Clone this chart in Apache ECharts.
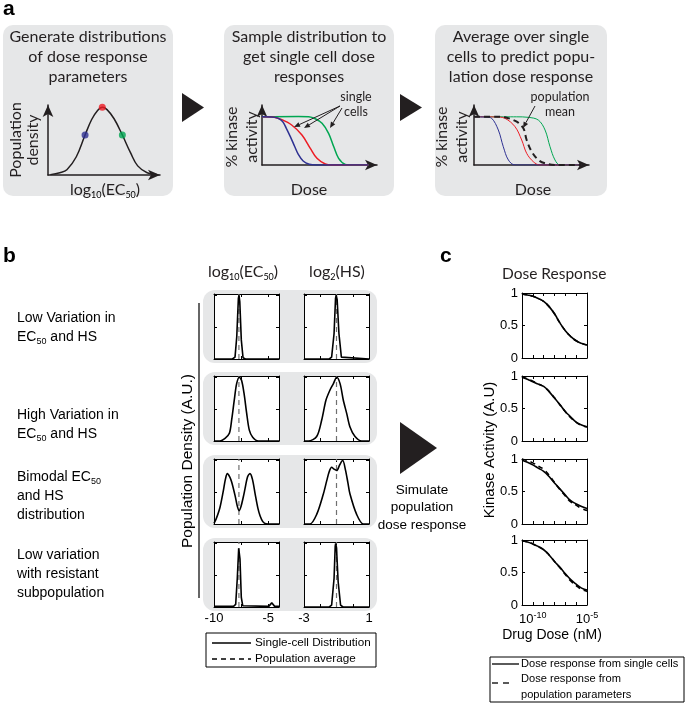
<!DOCTYPE html>
<html><head><meta charset="utf-8">
<script src="https://cdn.jsdelivr.net/npm/echarts@6/dist/echarts.min.js"></script>
<style>html,body{margin:0;padding:0;background:#fff}#c{width:685px;height:704px}</style>
</head><body><div id="c"></div>
<script>
// ---------- Panel a: schematic data ----------
const gaussX = [0.2, 1.0, 1.6, 2.4, 3.14, 3.7, 4.2, 4.6, 5.0, 5.6, 6.3, 7.0, 7.6, 8.4, 9.2];
const gaussY = [0.05, 0.3, 0.7, 2.4, 5.26, 7.3, 8.5, 8.9, 8.6, 7.4, 5.26, 2.9, 1.2, 0.3, 0.05];
const dotsX = [3.14, 4.6, 6.3];
const dotsY = [5.26, 8.9, 5.26];
const dotColors = ['#2e3192', '#ed1c24', '#00a651'];

const s2BlueX = [0, 0.8, 1.3, 1.7, 2.0, 2.34, 2.7, 3.0, 3.4, 3.9, 4.5, 8.8];
const s2BlueY = [7.3, 7.28, 7.1, 6.6, 5.6, 4.3, 2.8, 1.6, 0.6, 0.12, 0, 0];
const s2RedX = [0, 1.0, 1.6, 2.45, 3.3, 3.99, 4.54, 5.23, 5.78, 8.8];
const s2RedY = [7.3, 7.25, 6.9, 6.06, 4.55, 2.53, 1.01, 0.15, 0, 0];
const s2GreenX = [0, 3.0, 3.86, 4.4, 4.96, 5.5, 5.92, 6.33, 6.88, 7.44, 8.8];
const s2GreenY = [7.3, 7.35, 7.3, 7.0, 6.31, 4.8, 2.8, 1.0, 0.1, 0, 0];

const s3BlueX = [0, 1.0, 1.46, 2.01, 2.42, 2.84, 3.39, 8.9];
const s3BlueY = [7.3, 7.25, 7.07, 5.3, 2.77, 0.76, 0, 0];
const s3RedX = [0, 1.8, 2.56, 3.39, 3.94, 4.35, 4.9, 5.45, 8.9];
const s3RedY = [7.3, 7.28, 7.07, 5.8, 3.79, 1.77, 0.5, 0, 0];
const s3GreenX = [0, 3.5, 4.49, 5.32, 5.87, 6.28, 6.69, 7.11, 8.9];
const s3GreenY = [7.3, 7.3, 7.22, 6.8, 5.3, 2.77, 0.76, 0, 0];
const s3MeanX = [0, 2.0, 2.56, 3.53, 4.08, 4.35, 4.77, 5.32, 5.87, 6.69, 8.9];
const s3MeanY = [7.3, 7.3, 7.22, 6.56, 5.56, 3.79, 2.02, 0.76, 0.25, 0, 0];

// ---------- Panel b: population density curves ----------
const rowLabels = ['Low Variation in\nEC{sub|50} and HS', 'High Variation in\nEC{sub|50} and HS',
  'Bimodal EC{sub|50}\nand HS\ndistribution', 'Low variation\nwith resistant\nsubpopulation'];
const ec50Ticks = ['-10', '-5'];
const hsTicks = ['-3', '1'];
const ec50Low = [[-10,0],[-8.3,0],[-8.06,0.03],[-7.9,0.35],[-7.75,0.95],[-7.69,1.0],[-7.62,0.9],[-7.48,0.3],[-7.32,0.02],[-7.1,0],[-4,0]];
const hsLow = [[-3,0],[-1.45,0],[-1.3,0.03],[-1.15,0.4],[-1.06,0.95],[-1.02,1.0],[-0.96,0.93],[-0.85,0.4],[-0.7,0.03],[-0.6,0],[1,0]];
const ec50High = [[-10,0],[-9.45,0],[-8.98,0.04],[-8.58,0.12],[-8.37,0.33],[-8.13,0.64],[-7.91,0.9],[-7.66,1.0],[-7.45,0.95],[-7.23,0.75],[-6.98,0.43],[-6.74,0.17],[-6.43,0.06],[-5.91,0],[-4,0]];
const hsHigh = [[-3,0],[-2.73,0],[-2.22,0.07],[-1.91,0.33],[-1.65,0.64],[-1.4,0.8],[-1.19,0.9],[-0.99,1.0],[-0.78,0.9],[-0.58,0.64],[-0.37,0.43],[-0.17,0.22],[0.14,0.07],[0.55,0],[1,0]];
const ec50Bi = [[-10,0.01],[-9.8,0.08],[-9.45,0.26],[-9.14,0.52],[-8.95,0.7],[-8.77,0.79],[-8.55,0.74],[-8.37,0.66],[-8.06,0.45],[-7.85,0.28],[-7.69,0.21],[-7.5,0.28],[-7.3,0.42],[-7.14,0.55],[-6.9,0.74],[-6.68,0.79],[-6.45,0.7],[-6.2,0.47],[-5.95,0.25],[-5.75,0.13],[-5.5,0.04],[-5.2,0.005],[-4,0]];
const hsBi = [[-3,0],[-2.63,0],[-2.22,0.15],[-1.81,0.47],[-1.6,0.68],[-1.45,0.82],[-1.3,0.89],[-1.15,0.86],[-0.99,0.84],[-0.8,0.93],[-0.62,1.0],[-0.45,0.85],[-0.3,0.65],[-0.17,0.47],[0.24,0.15],[0.65,0],[1,0]];
const ec50Res = [[-10,0.01],[-8.2,0.01],[-8.0,0.04],[-7.85,0.45],[-7.72,0.92],[-7.69,0.95],[-7.6,0.75],[-7.48,0.15],[-7.35,0.02],[-7.2,0.01],[-4.95,0.01],[-4.8,0.04],[-4.67,0.065],[-4.55,0.04],[-4.4,0.01],[-4,0.01]];
const hsRes = [[-3,0],[-1.45,0],[-1.3,0.03],[-1.15,0.45],[-1.08,0.95],[-1.05,1.0],[-1.0,0.93],[-0.9,0.4],[-0.75,0.03],[-0.6,0],[1,0]];
const ec50Curves = [ec50Low, ec50High, ec50Bi, ec50Res];
const hsCurves = [hsLow, hsHigh, hsBi, hsRes];
const curveSmooth = [false, 0.3, 0.3, false];
const ec50Mean = [-7.7, -7.7, -7.7, -7.7];
const hsMean = [-1.0, -1.0, -1.0, -1.0];

// ---------- Panel c: dose response ----------
const logDose = [-11, -10.5, -10, -9.5, -9, -8.5, -8, -7.5, -7, -6.5, -6, -5.5, -5];
const drSingle = [
  [0.985, 0.97, 0.95, 0.915, 0.87, 0.79, 0.68, 0.54, 0.42, 0.33, 0.265, 0.225, 0.20],
  [0.98, 0.95, 0.91, 0.875, 0.84, 0.76, 0.66, 0.56, 0.455, 0.37, 0.29, 0.245, 0.22],
  [0.98, 0.95, 0.91, 0.86, 0.81, 0.73, 0.63, 0.54, 0.445, 0.36, 0.31, 0.27, 0.24],
  [0.99, 0.97, 0.94, 0.90, 0.85, 0.77, 0.67, 0.58, 0.48, 0.39, 0.32, 0.26, 0.23]
];
const drPop = [
  [0.985, 0.97, 0.95, 0.915, 0.87, 0.79, 0.68, 0.54, 0.42, 0.33, 0.265, 0.225, 0.20],
  [0.99, 0.955, 0.92, 0.88, 0.835, 0.765, 0.665, 0.555, 0.45, 0.36, 0.285, 0.24, 0.215],
  [1.0, 0.975, 0.94, 0.89, 0.84, 0.75, 0.64, 0.53, 0.43, 0.34, 0.29, 0.24, 0.21],
  [0.99, 0.97, 0.94, 0.90, 0.85, 0.77, 0.67, 0.575, 0.47, 0.37, 0.30, 0.24, 0.21]
];
const drYTicks = ['0', '0.5', '1'];

// ---------- build ----------
const AR = '"Liberation Sans", Arial, sans-serif';
const MY = 'Lato, "Open Sans", sans-serif';
const A_BLACK = '#231f20';
const GRAY = '#e6e7e8';
const grids = [], xAxes = [], yAxes = [], series = [], G = [];
const zip = (xs, ys) => xs.map((x, i) => [x, ys[i]]);

function schem(left, top, w, h, xmax, ymax) {
  grids.push({left, top, width: w, height: h, outerBoundsMode: 'none'});
  const gi = grids.length - 1;
  const al = {show: true, onZero: false, symbol: ['none', 'arrow'], symbolSize: [8, 12], lineStyle: {color: A_BLACK, width: 1.5}};
  const common = {gridIndex: gi, type: 'value', min: 0, axisLine: al, axisTick: {show: false}, axisLabel: {show: false}, splitLine: {show: false}};
  xAxes.push(Object.assign({max: xmax}, common));
  yAxes.push(Object.assign({max: ymax}, common));
  return [xAxes.length - 1, yAxes.length - 1];
}
function plot(left, top, w, h, xmin, xmax, xint, ymax, yint, xLab, yLab) {
  grids.push({left, top, width: w, height: h, show: true, backgroundColor: '#fff', borderWidth: 0, outerBoundsMode: 'none'});
  const gi = grids.length - 1;
  const line = {show: true, onZero: false, lineStyle: {color: '#000', width: 1}};
  const tick = {show: true, inside: true, length: 3, lineStyle: {color: '#000', width: 1}};
  const base = {gridIndex: gi, type: 'value', axisLine: line, axisTick: tick, splitLine: {show: false}};
  xAxes.push(Object.assign({position: 'bottom', min: xmin, max: xmax, interval: xint, axisLabel: xLab || {show: false}}, base));
  xAxes.push(Object.assign({position: 'top', min: xmin, max: xmax, interval: xint, axisLabel: {show: false}}, base));
  yAxes.push(Object.assign({position: 'left', min: 0, max: ymax, interval: yint, axisLabel: yLab || {show: false}}, base));
  yAxes.push(Object.assign({position: 'right', min: 0, max: ymax, interval: yint, axisLabel: {show: false}}, base));
  return [xAxes.length - 2, yAxes.length - 2];
}
function addLine(ax, data, color, width, dash, smooth, z) {
  series.push({type: 'line', xAxisIndex: ax[0], yAxisIndex: ax[1], data, showSymbol: false, smooth: smooth || false,
    lineStyle: {color, width, type: dash || 'solid'}, z: z || 2, silent: true});
}

// panel a plots
const a1 = schem(48, 105, 112, 70, 9.49, 9.21);
addLine(a1, zip(gaussX, gaussY), A_BLACK, 1.5, null, 0.4);
series.push({type: 'scatter', xAxisIndex: a1[0], yAxisIndex: a1[1], symbolSize: 7, z: 5,
  data: dotsX.map((x, i) => ({value: [x, dotsY[i]], itemStyle: {color: dotColors[i]}}))});
const a2 = schem(262, 105, 115, 60, 9.5, 9.09);
addLine(a2, zip(s2GreenX, s2GreenY), '#00a651', 1.5, null, 0.35);
addLine(a2, zip(s2RedX, s2RedY), '#ed1c24', 1.5, null, 0.35);
addLine(a2, zip(s2BlueX, s2BlueY), '#2e3192', 1.5, null, 0.35);
const a3 = schem(474, 105, 115, 60, 9.5, 9.09);
addLine(a3, zip(s3GreenX, s3GreenY), '#00a651', 1, null, 0.35);
addLine(a3, zip(s3RedX, s3RedY), '#ed1c24', 1, null, 0.35);
addLine(a3, zip(s3BlueX, s3BlueY), '#2e3192', 1, null, 0.35);
addLine(a3, zip(s3MeanX, s3MeanY), A_BLACK, 2, [6, 4], 0.35, 4);

// panel b plots
const rowTops = [294, 376, 459, 542];
const tickLab = (keep) => ({show: true, margin: 5, fontSize: 13, fontFamily: AR, color: '#000',
  showMinLabel: true, showMaxLabel: true,
  formatter: v => keep.indexOf(String(v)) >= 0 ? String(v) : ''});
rowTops.forEach((t, r) => {
  const last = r === rowTops.length - 1;
  const p1 = plot(214, t, 65, 65, -10, -4, 2.5, 1.02, 0.5, last ? tickLab(ec50Ticks) : null);
  addLine(p1, [[ec50Mean[r], 0], [ec50Mean[r], 1.02]], '#707070', 1.2, [5, 4], false, 2);
  addLine(p1, ec50Curves[r], '#000', 1.6, null, curveSmooth[r], 3);
  const p2 = plot(304, t, 65, 65, -3, 1, 1, 1.02, 0.5, last ? tickLab(hsTicks) : null);
  addLine(p2, [[hsMean[r], 0], [hsMean[r], 1.02]], '#707070', 1.2, [5, 4], false, 2);
  addLine(p2, hsCurves[r], '#000', 1.6, null, curveSmooth[r], 3);
});

// panel c plots
const drTops = [293, 376, 459, 540];
drTops.forEach((t, r) => {
  const last = r === drTops.length - 1;
  const xl = last ? {show: true, margin: 6, fontSize: 13, fontFamily: AR, color: '#000', lineHeight: 16,
    formatter: v => v === -10 ? '10{sup|-10}' : (v === -5 ? '10{sup|-5}' : ''),
    rich: {sup: {fontSize: 9, fontFamily: AR, color: '#000', verticalAlign: 'top', lineHeight: 9}}} : null;
  const yl = {show: true, margin: 4, fontSize: 13, fontFamily: AR, color: '#000',
    formatter: v => drYTicks[Math.round(v * 2)] || ''};
  const p = plot(522, t, 65, 65, -11, -5, 1, 1, 0.5, xl, yl);
  addLine(p, zip(logDose, drPop[r]), '#000', 1.6, [5, 4], true, 3);
  addLine(p, zip(logDose, drSingle[r]), '#000', 1.6, null, true, 4);
});

// ---------- graphic decorations ----------
function T(x, y, text, o) {
  o = o || {};
  const st = {text, fontSize: o.size || 14, fontFamily: o.font || AR, fontWeight: o.weight || 'normal', fill: o.color || '#000',
    align: o.align || 'left', verticalAlign: o.va || 'middle', textAlign: o.align || 'left', textVerticalAlign: o.va || 'middle'};
  if (o.lh) st.lineHeight = o.lh;
  if (o.rich) st.rich = o.rich;
  G.push({type: 'text', x, y, rotation: o.rot || 0, z: 100, silent: true, style: st});
}
function R(x, y, w, h, r, fill, stroke) {
  G.push({type: 'rect', shape: {x, y, width: w, height: h, r}, z: stroke ? 100 : -10, silent: true,
    style: {fill: fill || 'none', stroke: stroke || null, lineWidth: 1}});
}
function L(x1, y1, x2, y2, color, w, dash) {
  G.push({type: 'line', shape: {x1, y1, x2, y2}, z: 100, silent: true, style: {stroke: color || '#000', lineWidth: w || 1, lineDash: dash || null}});
}
function P(points, color) {
  G.push({type: 'polygon', shape: {points}, z: 100, silent: true, style: {fill: color || A_BLACK}});
}
function ARW(x1, y1, x2, y2, color) {
  const dx = x2 - x1, dy = y2 - y1, len = Math.hypot(dx, dy), ux = dx / len, uy = dy / len;
  const hl = 6, hw = 2.5, bx = x2 - ux * hl, by = y2 - uy * hl;
  L(x1, y1, bx, by, color, 1);
  P([[x2, y2], [bx - uy * hw, by + ux * hw], [bx + uy * hw, by - ux * hw]], color);
}
const subR = (fs, font) => ({sub: {fontSize: fs, fontFamily: font, fill: '#000', color: '#000', verticalAlign: 'bottom', lineHeight: 10}});

// panel a
T(3, 9, 'a', {size: 21, weight: 'bold'});
R(3, 25, 170, 171, 10, GRAY);
R(224, 25, 170, 171, 10, GRAY);
R(435, 25, 172, 171, 10, GRAY);
P([[182, 93], [182, 122], [204, 107.5]]);
P([[400, 94], [400, 121], [422, 107.5]]);
T(88, 27, 'Generate distributions\nof dose response\nparameters', {size: 16, font: MY, align: 'center', va: 'top', lh: 20, color: A_BLACK});
T(309, 27, 'Sample distribution to\nget single cell dose\nresponses', {size: 16, font: MY, align: 'center', va: 'top', lh: 20, color: A_BLACK});
T(521, 27, 'Average over single\ncells to predict popu-\nlation dose response', {size: 16, font: MY, align: 'center', va: 'top', lh: 20, color: A_BLACK});
T(24, 140, 'Population\ndensity', {size: 16, font: MY, align: 'center', lh: 17, rot: Math.PI / 2, color: A_BLACK});
T(105, 190, 'log{sub|10}(EC{sub|50})', {size: 16, font: MY, align: 'center', lh: 20, rich: subR(9, MY), color: A_BLACK});
T(242, 137, '% kinase\nactivity', {size: 16, font: MY, align: 'center', lh: 20, rot: Math.PI / 2, color: A_BLACK});
T(309, 190, 'Dose', {size: 16, font: MY, align: 'center', color: A_BLACK});
T(452, 137, '% kinase\nactivity', {size: 16, font: MY, align: 'center', lh: 20, rot: Math.PI / 2, color: A_BLACK});
T(533, 190, 'Dose', {size: 16, font: MY, align: 'center', color: A_BLACK});
T(356, 104, 'single\ncells', {size: 12.5, font: MY, align: 'center', lh: 15, color: A_BLACK});
ARW(340, 106, 294, 127, A_BLACK);
ARW(340, 106, 304, 128, A_BLACK);
ARW(342, 108, 330, 128, A_BLACK);
T(560, 104, 'population\nmean', {size: 12.5, font: MY, align: 'center', lh: 15, color: A_BLACK});
ARW(535, 106, 523, 128, A_BLACK);

// panel b
T(3, 256, 'b', {size: 21, weight: 'bold'});
T(243, 272, 'log{sub|10}(EC{sub|50})', {size: 16, font: MY, align: 'center', lh: 20, rich: subR(9, MY), color: A_BLACK});
T(337, 272, 'log{sub|2}(HS)', {size: 16, font: MY, align: 'center', lh: 20, rich: subR(9, MY), color: A_BLACK});
rowTops.forEach(t => R(203, t - 4, 174, 73, 12, GRAY));
const rowLabelTops = [308.5, 405.5, 467.5, 545.5];
rowLabels.forEach((s, i) => T(17, rowLabelTops[i], s, {size: 14, va: 'top', lh: 19, rich: subR(9, AR)}));
T(188, 461, 'Population Density (A.U.)', {size: 15.5, align: 'center', rot: Math.PI / 2});
L(199, 303, 199, 598, '#333', 1.5);
P([[400, 422], [400, 474], [437, 448]]);
T(422, 507.5, 'Simulate\npopulation\ndose response', {size: 13.5, align: 'center', va: 'middle', lh: 17.5});
R(206, 633, 170, 34, 0, '#fff', '#000');
L(212, 643, 251, 643, '#000', 1.3);
L(212, 659, 251, 659, '#000', 1.3, [5, 4]);
T(255, 643, 'Single-cell Distribution', {size: 11.7});
T(255, 659, 'Population average', {size: 11.7});

// panel c
T(440, 256, 'c', {size: 21, weight: 'bold'});
T(502, 274, 'Dose Response', {size: 15.5, font: MY, color: A_BLACK});
T(490, 450, 'Kinase Activity (A.U)', {size: 15, align: 'center', rot: Math.PI / 2});
T(552, 635, 'Drug Dose (nM)', {size: 14, align: 'center'});
R(490, 657, 194, 45, 0, '#fff', '#000');
L(492, 664, 519, 664, '#000', 1.3);
L(492, 683, 498, 683, '#000', 1.3);
L(503, 683, 509, 683, '#000', 1.3);
T(521, 664, 'Dose response from single cells', {size: 11.1});
T(521, 679, 'Dose response from', {size: 11.1});
T(521, 695, 'population parameters', {size: 11.1});

const chart = echarts.init(document.getElementById('c'), null, {renderer: 'canvas'});
chart.setOption({animation: false, backgroundColor: '#fff', grid: grids, xAxis: xAxes, yAxis: yAxes, series, graphic: {elements: G}});
</script></body></html>
